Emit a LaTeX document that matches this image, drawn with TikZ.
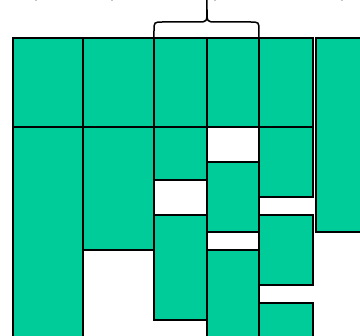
\documentclass[tikz,border=0pt]{standalone}
\definecolor{blockgreen}{HTML}{00CC99}
\tikzset{
  block/.style={fill=blockgreen, draw=black, line width=1.6pt},
  bracket/.style={draw=black, line width=1.5pt, line cap=round},
}
\begin{document}
\begin{tikzpicture}[x=1pt, y=-1pt]
	\useasboundingbox (0,0) rectangle (360,336);
	% hàng trên
	\foreach \a/\b in {13/83, 83/154, 154/207, 207/259, 259/313} {
		\filldraw[block] (\a,38) rectangle (\b,127);
	}
	% khối bên phải
	\filldraw[block] (316,38) rectangle (366,232);
	% các cột bên dưới
	\foreach \a/\b/\t/\u in {13/83/127/345, 83/154/127/250,
		154/207/127/180, 154/207/215/320,
		207/259/162/232, 207/259/250/345,
		259/313/127/197, 259/313/215/285, 259/313/303/345} {
		\filldraw[block] (\a,\t) rectangle (\b,\u);
	}
	% ngoặc nhọn
	\draw[bracket] (154,38) -- (154,31) .. controls (154,22) .. (163,22)
		-- (198,22) .. controls (207,22) .. (207,10) -- (207,-4);
	\draw[bracket] (259,38) -- (259,31) .. controls (259,22) .. (250,22)
		-- (216,22) .. controls (207,22) .. (207,10);
	% vết mực phía trên
	\foreach \x in {36, 112, 215, 342} {
		\draw[bracket] (\x,-4) -- (\x,-0.2);
	}
\end{tikzpicture}
\end{document}
